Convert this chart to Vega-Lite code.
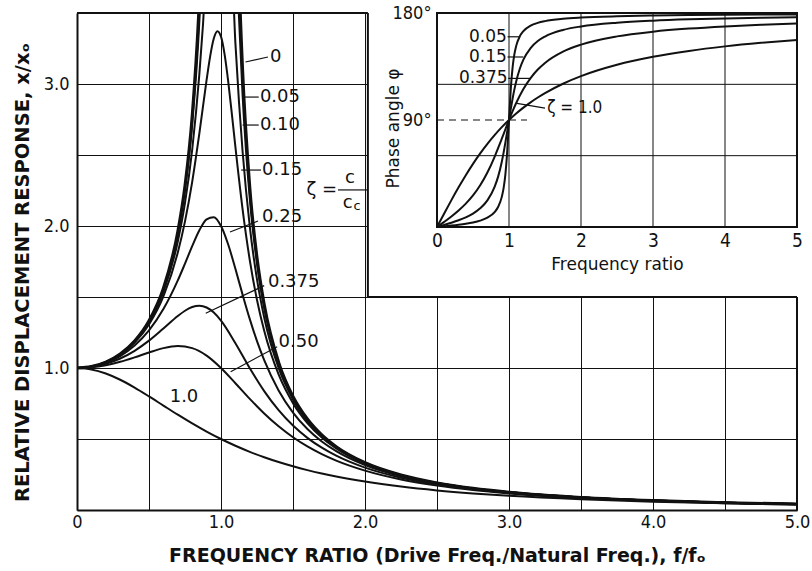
{
  "$schema": "https://vega.github.io/schema/vega-lite/v6.json",
  "width": 720,
  "height": 497,
  "autosize": {"type": "none"},
  "padding": {"left": 77, "top": 13, "right": 15, "bottom": 61},
  "background": "white",
  "config": {
    "view": {"stroke": null},
    "font": "DejaVu Sans",
    "text": {"font": "DejaVu Sans", "color": "#111"}
  },
  "datasets": {
    "amp": [
      {"z":0,"r":0,"a":1},{"z":0,"r":0.1,"a":1.0101},{"z":0,"r":0.2,"a":1.0417},{"z":0,"r":0.3,"a":1.0989},{"z":0,"r":0.4,"a":1.1905},{"z":0,"r":0.5,"a":1.3333},{"z":0,"r":0.6,"a":1.5625},{"z":0,"r":0.7,"a":1.9608},{"z":0,"r":0.75,"a":2.2857},{"z":0,"r":0.8,"a":2.7778},{"z":0,"r":0.85,"a":3.6036},{"z":0,"r":0.875,"a":4.267},{"z":0,"r":0.9,"a":5.2632},{"z":0,"r":1.1,"a":4.7619},{"z":0,"r":1.125,"a":3.7647},{"z":0,"r":1.15,"a":3.1008},{"z":0,"r":1.2,"a":2.2727},{"z":0,"r":1.25,"a":1.7778},{"z":0,"r":1.3,"a":1.4493},{"z":0,"r":1.4,"a":1.0417},{"z":0,"r":1.5,"a":0.8},{"z":0,"r":1.6,"a":0.641},{"z":0,"r":1.7,"a":0.5291},{"z":0,"r":1.8,"a":0.4464},{"z":0,"r":2.0,"a":0.3333},{"z":0,"r":2.25,"a":0.2462},{"z":0,"r":2.5,"a":0.1905},{"z":0,"r":2.75,"a":0.1524},{"z":0,"r":3.0,"a":0.125},{"z":0,"r":3.5,"a":0.0889},{"z":0,"r":4.0,"a":0.0667},{"z":0,"r":4.5,"a":0.0519},{"z":0,"r":5.0,"a":0.0417},
      {"z":0.05,"r":0,"a":1},{"z":0.05,"r":0.1,"a":1.0101},{"z":0.05,"r":0.2,"a":1.0414},{"z":0.05,"r":0.3,"a":1.0983},{"z":0.05,"r":0.4,"a":1.1891},{"z":0.05,"r":0.5,"a":1.3304},{"z":0.05,"r":0.6,"a":1.5557},{"z":0.05,"r":0.7,"a":1.9426},{"z":0.05,"r":0.75,"a":2.2529},{"z":0.05,"r":0.8,"a":2.7116},{"z":0.05,"r":0.85,"a":3.4455},{"z":0.05,"r":0.875,"a":3.997},{"z":0.05,"r":0.9,"a":4.756},{"z":0.05,"r":1.075,"a":5.287},{"z":0.05,"r":1.1,"a":4.218},{"z":0.05,"r":1.125,"a":3.4666},{"z":0.05,"r":1.15,"a":2.9207},{"z":0.05,"r":1.2,"a":2.1926},{"z":0.05,"r":1.25,"a":1.7354},{"z":0.05,"r":1.3,"a":1.4242},{"z":0.05,"r":1.4,"a":1.0308},{"z":0.05,"r":1.5,"a":0.7943},{"z":0.05,"r":1.6,"a":0.6377},{"z":0.05,"r":1.7,"a":0.527},{"z":0.05,"r":1.8,"a":0.445},{"z":0.05,"r":2.0,"a":0.3326},{"z":0.05,"r":2.25,"a":0.2458},{"z":0.05,"r":2.5,"a":0.1903},{"z":0.05,"r":2.75,"a":0.1522},{"z":0.05,"r":3.0,"a":0.1249},{"z":0.05,"r":3.5,"a":0.0888},{"z":0.05,"r":4.0,"a":0.0666},{"z":0.05,"r":4.5,"a":0.0519},{"z":0.05,"r":5.0,"a":0.0417},
      {"z":0.1,"r":0,"a":1},{"z":0.1,"r":0.1,"a":1.0099},{"z":0.1,"r":0.2,"a":1.0408},{"z":0.1,"r":0.3,"a":1.0965},{"z":0.1,"r":0.4,"a":1.1851},{"z":0.1,"r":0.5,"a":1.3216},{"z":0.1,"r":0.6,"a":1.5357},{"z":0.1,"r":0.7,"a":1.8908},{"z":0.1,"r":0.75,"a":2.1622},{"z":0.1,"r":0.8,"a":2.5384},{"z":0.1,"r":0.85,"a":3.0728},{"z":0.1,"r":0.875,"a":3.4188},{"z":0.1,"r":0.9,"a":3.8208},{"z":0.1,"r":1.075,"a":3.7677},{"z":0.1,"r":1.1,"a":3.288},{"z":0.1,"r":1.125,"a":2.8726},{"z":0.1,"r":1.15,"a":2.5245},{"z":0.1,"r":1.2,"a":1.9952},{"z":0.1,"r":1.25,"a":1.6245},{"z":0.1,"r":1.3,"a":1.3562},{"z":0.1,"r":1.4,"a":1.0},{"z":0.1,"r":1.5,"a":0.7779},{"z":0.1,"r":1.6,"a":0.6279},{"z":0.1,"r":1.7,"a":0.5207},{"z":0.1,"r":1.8,"a":0.4408},{"z":0.1,"r":2.0,"a":0.3304},{"z":0.1,"r":2.25,"a":0.2447},{"z":0.1,"r":2.5,"a":0.1896},{"z":0.1,"r":2.75,"a":0.1518},{"z":0.1,"r":3.0,"a":0.1246},{"z":0.1,"r":3.5,"a":0.0887},{"z":0.1,"r":4.0,"a":0.0666},{"z":0.1,"r":4.5,"a":0.0519},{"z":0.1,"r":5.0,"a":0.0416},
      {"z":0.15,"r":0,"a":1},{"z":0.15,"r":0.1,"a":1.0096},{"z":0.15,"r":0.2,"a":1.0396},{"z":0.15,"r":0.3,"a":1.0936},{"z":0.15,"r":0.4,"a":1.1785},{"z":0.15,"r":0.5,"a":1.3074},{"z":0.15,"r":0.6,"a":1.5041},{"z":0.15,"r":0.7,"a":1.8131},{"z":0.15,"r":0.75,"a":2.0327},{"z":0.15,"r":0.8,"a":2.3112},{"z":0.15,"r":0.85,"a":2.6534},{"z":0.15,"r":0.9,"a":3.0289},{"z":0.15,"r":0.925,"a":3.1968},{"z":0.15,"r":0.95,"a":3.3198},{"z":0.15,"r":0.975,"a":3.3711},{"z":0.15,"r":1.0,"a":3.3333},{"z":0.15,"r":1.025,"a":3.2089},{"z":0.15,"r":1.05,"a":3.0188},{"z":0.15,"r":1.075,"a":2.7926},{"z":0.15,"r":1.1,"a":2.5566},{"z":0.15,"r":1.15,"a":2.1174},{"z":0.15,"r":1.2,"a":1.759},{"z":0.15,"r":1.25,"a":1.4792},{"z":0.15,"r":1.3,"a":1.2617},{"z":0.15,"r":1.4,"a":0.9543},{"z":0.15,"r":1.5,"a":0.7527},{"z":0.15,"r":1.6,"a":0.6127},{"z":0.15,"r":1.7,"a":0.5108},{"z":0.15,"r":1.8,"a":0.434},{"z":0.15,"r":2.0,"a":0.3269},{"z":0.15,"r":2.25,"a":0.2428},{"z":0.15,"r":2.5,"a":0.1886},{"z":0.15,"r":2.75,"a":0.1512},{"z":0.15,"r":3.0,"a":0.1242},{"z":0.15,"r":3.5,"a":0.0885},{"z":0.15,"r":4.0,"a":0.0665},{"z":0.15,"r":4.5,"a":0.0518},{"z":0.15,"r":5.0,"a":0.0416},
      {"z":0.25,"r":0,"a":1},{"z":0.25,"r":0.1,"a":1.0088},{"z":0.25,"r":0.2,"a":1.0361},{"z":0.25,"r":0.3,"a":1.0843},{"z":0.25,"r":0.4,"a":1.1581},{"z":0.25,"r":0.5,"a":1.2649},{"z":0.25,"r":0.6,"a":1.4148},{"z":0.25,"r":0.7,"a":1.6167},{"z":0.25,"r":0.75,"a":1.7354},{"z":0.25,"r":0.8,"a":1.8582},{"z":0.25,"r":0.85,"a":1.9701},{"z":0.25,"r":0.9,"a":2.0472},{"z":0.25,"r":0.95,"a":2.0623},{"z":0.25,"r":1.0,"a":2.0},{"z":0.25,"r":1.05,"a":1.8695},{"z":0.25,"r":1.1,"a":1.6986},{"z":0.25,"r":1.15,"a":1.5168},{"z":0.25,"r":1.2,"a":1.344},{"z":0.25,"r":1.25,"a":1.1893},{"z":0.25,"r":1.3,"a":1.0549},{"z":0.25,"r":1.4,"a":0.8417},{"z":0.25,"r":1.5,"a":0.686},{"z":0.25,"r":1.6,"a":0.5704},{"z":0.25,"r":1.7,"a":0.4825},{"z":0.25,"r":1.8,"a":0.4142},{"z":0.25,"r":2.0,"a":0.3162},{"z":0.25,"r":2.25,"a":0.2372},{"z":0.25,"r":2.5,"a":0.1853},{"z":0.25,"r":2.75,"a":0.1491},{"z":0.25,"r":3.0,"a":0.1229},{"z":0.25,"r":3.5,"a":0.0878},{"z":0.25,"r":4.0,"a":0.0661},{"z":0.25,"r":4.5,"a":0.0516},{"z":0.25,"r":5.0,"a":0.0414},
      {"z":0.375,"r":0,"a":1},{"z":0.375,"r":0.1,"a":1.0072},{"z":0.375,"r":0.2,"a":1.0292},{"z":0.375,"r":0.3,"a":1.0668},{"z":0.375,"r":0.4,"a":1.1211},{"z":0.375,"r":0.5,"a":1.1926},{"z":0.375,"r":0.6,"a":1.2782},{"z":0.375,"r":0.7,"a":1.3663},{"z":0.375,"r":0.75,"a":1.4033},{"z":0.375,"r":0.8,"a":1.4292},{"z":0.375,"r":0.85,"a":1.4383},{"z":0.375,"r":0.9,"a":1.4261},{"z":0.375,"r":0.95,"a":1.3905},{"z":0.375,"r":1.0,"a":1.3333},{"z":0.375,"r":1.1,"a":1.1747},{"z":0.375,"r":1.2,"a":0.9982},{"z":0.375,"r":1.3,"a":0.8372},{"z":0.375,"r":1.4,"a":0.7029},{"z":0.375,"r":1.5,"a":0.5946},{"z":0.375,"r":1.6,"a":0.5081},{"z":0.375,"r":1.7,"a":0.4386},{"z":0.375,"r":1.8,"a":0.3824},{"z":0.375,"r":2.0,"a":0.2981},{"z":0.375,"r":2.25,"a":0.2273},{"z":0.375,"r":2.5,"a":0.1794},{"z":0.375,"r":2.75,"a":0.1454},{"z":0.375,"r":3.0,"a":0.1203},{"z":0.375,"r":3.5,"a":0.0866},{"z":0.375,"r":4.0,"a":0.0654},{"z":0.375,"r":4.5,"a":0.0512},{"z":0.375,"r":5.0,"a":0.0412},
      {"z":0.5,"r":0,"a":1},{"z":0.5,"r":0.1,"a":1.005},{"z":0.5,"r":0.2,"a":1.0198},{"z":0.5,"r":0.3,"a":1.0436},{"z":0.5,"r":0.4,"a":1.0748},{"z":0.5,"r":0.5,"a":1.1094},{"z":0.5,"r":0.6,"a":1.1399},{"z":0.5,"r":0.7,"a":1.1546},{"z":0.5,"r":0.8,"a":1.1399},{"z":0.5,"r":0.9,"a":1.0872},{"z":0.5,"r":1.0,"a":1.0},{"z":0.5,"r":1.1,"a":0.893},{"z":0.5,"r":1.2,"a":0.7824},{"z":0.5,"r":1.3,"a":0.6795},{"z":0.5,"r":1.4,"a":0.5891},{"z":0.5,"r":1.5,"a":0.5121},{"z":0.5,"r":1.6,"a":0.4475},{"z":0.5,"r":1.7,"a":0.3934},{"z":0.5,"r":1.8,"a":0.348},{"z":0.5,"r":2.0,"a":0.2774},{"z":0.5,"r":2.25,"a":0.2153},{"z":0.5,"r":2.5,"a":0.172},{"z":0.5,"r":2.75,"a":0.1405},{"z":0.5,"r":3.0,"a":0.117},{"z":0.5,"r":3.5,"a":0.0849},{"z":0.5,"r":4.0,"a":0.0644},{"z":0.5,"r":4.5,"a":0.0506},{"z":0.5,"r":5.0,"a":0.0408},
      {"z":1,"r":0,"a":1},{"z":1,"r":0.1,"a":0.9901},{"z":1,"r":0.2,"a":0.9615},{"z":1,"r":0.3,"a":0.9174},{"z":1,"r":0.4,"a":0.8621},{"z":1,"r":0.5,"a":0.8},{"z":1,"r":0.6,"a":0.7353},{"z":1,"r":0.7,"a":0.6711},{"z":1,"r":0.8,"a":0.6098},{"z":1,"r":0.9,"a":0.5525},{"z":1,"r":1.0,"a":0.5},{"z":1,"r":1.1,"a":0.4525},{"z":1,"r":1.2,"a":0.4098},{"z":1,"r":1.3,"a":0.3717},{"z":1,"r":1.4,"a":0.3378},{"z":1,"r":1.5,"a":0.3077},{"z":1,"r":1.6,"a":0.2809},{"z":1,"r":1.7,"a":0.2571},{"z":1,"r":1.8,"a":0.2358},{"z":1,"r":2.0,"a":0.2},{"z":1,"r":2.25,"a":0.1649},{"z":1,"r":2.5,"a":0.1379},{"z":1,"r":2.75,"a":0.1168},{"z":1,"r":3.0,"a":0.1},{"z":1,"r":3.5,"a":0.0755},{"z":1,"r":4.0,"a":0.0588},{"z":1,"r":4.5,"a":0.0471},{"z":1,"r":5.0,"a":0.0385}
    ],
    "phase": [
      {"z":0.05,"r":0,"p":0},{"z":0.05,"r":0.1,"p":0.58},{"z":0.05,"r":0.2,"p":1.19},{"z":0.05,"r":0.3,"p":1.89},{"z":0.05,"r":0.4,"p":2.73},{"z":0.05,"r":0.5,"p":3.81},{"z":0.05,"r":0.6,"p":5.36},{"z":0.05,"r":0.7,"p":7.82},{"z":0.05,"r":0.8,"p":12.53},{"z":0.05,"r":0.85,"p":17.03},{"z":0.05,"r":0.9,"p":25.35},{"z":0.05,"r":0.925,"p":32.65},{"z":0.05,"r":0.95,"p":44.26},{"z":0.05,"r":0.975,"p":63.14},{"z":0.05,"r":1.0,"p":90},{"z":0.05,"r":1.025,"p":116.29},{"z":0.05,"r":1.05,"p":134.31},{"z":0.05,"r":1.075,"p":145.36},{"z":0.05,"r":1.1,"p":152.35},{"z":0.05,"r":1.15,"p":160.37},{"z":0.05,"r":1.2,"p":164.74},{"z":0.05,"r":1.3,"p":169.33},{"z":0.05,"r":1.4,"p":171.7},{"z":0.05,"r":1.5,"p":173.16},{"z":0.05,"r":1.75,"p":175.15},{"z":0.05,"r":2.0,"p":176.19},{"z":0.05,"r":2.5,"p":177.27},{"z":0.05,"r":3.0,"p":177.85},{"z":0.05,"r":3.5,"p":178.22},{"z":0.05,"r":4.0,"p":178.47},{"z":0.05,"r":4.5,"p":178.66},{"z":0.05,"r":5.0,"p":178.81},
      {"z":0.15,"r":0,"p":0},{"z":0.15,"r":0.1,"p":1.74},{"z":0.15,"r":0.2,"p":3.58},{"z":0.15,"r":0.3,"p":5.65},{"z":0.15,"r":0.4,"p":8.13},{"z":0.15,"r":0.5,"p":11.31},{"z":0.15,"r":0.6,"p":15.71},{"z":0.15,"r":0.7,"p":22.38},{"z":0.15,"r":0.8,"p":33.69},{"z":0.15,"r":0.85,"p":42.58},{"z":0.15,"r":0.9,"p":54.87},{"z":0.15,"r":0.925,"p":62.52},{"z":0.15,"r":0.95,"p":71.11},{"z":0.15,"r":0.975,"p":80.42},{"z":0.15,"r":1.0,"p":90},{"z":0.15,"r":1.025,"p":99.35},{"z":0.15,"r":1.05,"p":108.02},{"z":0.15,"r":1.075,"p":115.76},{"z":0.15,"r":1.1,"p":122.47},{"z":0.15,"r":1.15,"p":133.07},{"z":0.15,"r":1.2,"p":140.71},{"z":0.15,"r":1.3,"p":150.52},{"z":0.15,"r":1.4,"p":156.37},{"z":0.15,"r":1.5,"p":160.2},{"z":0.15,"r":1.75,"p":165.72},{"z":0.15,"r":2.0,"p":168.69},{"z":0.15,"r":2.5,"p":171.87},{"z":0.15,"r":3.0,"p":173.58},{"z":0.15,"r":3.5,"p":174.67},{"z":0.15,"r":4.0,"p":175.43},{"z":0.15,"r":4.5,"p":175.99},{"z":0.15,"r":5.0,"p":176.42},
      {"z":0.375,"r":0,"p":0},{"z":0.375,"r":0.1,"p":4.33},{"z":0.375,"r":0.2,"p":8.88},{"z":0.375,"r":0.3,"p":13.89},{"z":0.375,"r":0.4,"p":19.65},{"z":0.375,"r":0.5,"p":26.57},{"z":0.375,"r":0.6,"p":35.11},{"z":0.375,"r":0.7,"p":45.83},{"z":0.375,"r":0.8,"p":59.04},{"z":0.375,"r":0.85,"p":66.48},{"z":0.375,"r":0.9,"p":74.28},{"z":0.375,"r":0.95,"p":82.21},{"z":0.375,"r":1.0,"p":90},{"z":0.375,"r":1.05,"p":97.42},{"z":0.375,"r":1.1,"p":104.28},{"z":0.375,"r":1.2,"p":116.05},{"z":0.375,"r":1.3,"p":125.29},{"z":0.375,"r":1.4,"p":132.44},{"z":0.375,"r":1.5,"p":138.01},{"z":0.375,"r":1.75,"p":147.53},{"z":0.375,"r":2.0,"p":153.43},{"z":0.375,"r":2.5,"p":160.35},{"z":0.375,"r":3.0,"p":164.29},{"z":0.375,"r":3.5,"p":166.87},{"z":0.375,"r":4.0,"p":168.69},{"z":0.375,"r":4.5,"p":170.06},{"z":0.375,"r":5.0,"p":171.12},
      {"z":1,"r":0,"p":0},{"z":1,"r":0.1,"p":11.42},{"z":1,"r":0.2,"p":22.62},{"z":1,"r":0.3,"p":33.4},{"z":1,"r":0.4,"p":43.6},{"z":1,"r":0.5,"p":53.13},{"z":1,"r":0.6,"p":61.93},{"z":1,"r":0.7,"p":69.98},{"z":1,"r":0.8,"p":77.32},{"z":1,"r":0.9,"p":83.97},{"z":1,"r":1.0,"p":90},{"z":1,"r":1.1,"p":95.45},{"z":1,"r":1.2,"p":100.39},{"z":1,"r":1.3,"p":104.86},{"z":1,"r":1.4,"p":108.92},{"z":1,"r":1.5,"p":112.62},{"z":1,"r":1.75,"p":120.51},{"z":1,"r":2.0,"p":126.87},{"z":1,"r":2.5,"p":136.4},{"z":1,"r":3.0,"p":143.13},{"z":1,"r":3.5,"p":148.11},{"z":1,"r":4.0,"p":151.93},{"z":1,"r":4.5,"p":154.94},{"z":1,"r":5.0,"p":157.38}
    ],
    "mask": [{"x":2.02,"x2":5.1,"y":1.5,"y2":3.6}],
    "frame": [
      {"x":2.02,"x2":2.02,"y":1.5,"y2":3.5},
      {"x":2.02,"x2":5,"y":1.5,"y2":1.5},
      {"x":0,"x2":2.02,"y":3.5,"y2":3.5},
      {"x":5,"x2":5,"y":0,"y2":1.5}
    ],
    "leaders": [
      {"x":1.17,"x2":1.326,"y":3.155,"y2":3.19},
      {"x":1.16,"x2":1.262,"y":2.908,"y2":2.908},
      {"x":1.15,"x2":1.262,"y":2.711,"y2":2.711},
      {"x":1.14,"x2":1.278,"y":2.394,"y2":2.394},
      {"x":1.0625,"x2":1.257,"y":1.958,"y2":2.035},
      {"x":0.894,"x2":1.3,"y":1.385,"y2":1.58},
      {"x":1.067,"x2":1.39,"y":0.974,"y2":1.15},
      {"x":1.8125,"x2":2.02,"y":2.254,"y2":2.254}
    ],
    "labels": [
      {"t":"0","x":1.34,"y":3.19},
      {"t":"0.05","x":1.27,"y":2.908},
      {"t":"0.10","x":1.27,"y":2.711},
      {"t":"0.15","x":1.285,"y":2.394},
      {"t":"0.25","x":1.285,"y":2.063},
      {"t":"0.375","x":1.326,"y":1.606},
      {"t":"0.50","x":1.4,"y":1.185}
    ],
    "clabels": [
      {"t":"1.0","x":0.743,"y":0.796},
      {"t":"ζ =","x":1.7,"y":2.254},
      {"t":"c","x":1.896,"y":2.335}
    ],
    "cc": [{"t":"c","x":1.88,"y":2.165}],
    "ccsub": [{"t":"c","x":1.945,"y":2.14}],
    "igrid": [
      {"x":1,"x2":1,"y":0,"y2":180},
      {"x":2,"x2":2,"y":0,"y2":180},
      {"x":3,"x2":3,"y":0,"y2":180},
      {"x":4,"x2":4,"y":0,"y2":180},
      {"x":0,"x2":5,"y":60,"y2":60},
      {"x":0,"x2":5,"y":120,"y2":120}
    ],
    "iframe": [{"x":0,"x2":5,"y":0,"y2":180}],
    "idash": [{"x":0,"x2":1.25,"y":90,"y2":90}],
    "ileaders": [
      {"x":0.98,"x2":1.14,"y":160,"y2":160},
      {"x":0.98,"x2":1.2,"y":143,"y2":143},
      {"x":0.99,"x2":1.3,"y":125,"y2":125},
      {"x":1.11,"x2":1.5,"y":104,"y2":100}
    ],
    "ilabels": [
      {"t":"0.05","x":0.97,"y":160},
      {"t":"0.15","x":0.97,"y":143},
      {"t":"0.375","x":0.98,"y":125}
    ],
    "izeta": [{"t":"ζ = 1.0","x":1.53,"y":100}]
  },
  "layer": [
    {
      "layer": [
        {
          "data": {"name": "amp"},
          "mark": {"type": "line", "interpolate": "monotone", "clip": true, "color": "#111"},
          "encoding": {
            "x": {
              "field": "r", "type": "quantitative",
              "scale": {"domain": [0, 5], "nice": false, "zero": false},
              "axis": {
                "values": [0, 0.5, 1, 1.5, 2, 2.5, 3, 3.5, 4, 4.5, 5],
                "grid": true, "gridColor": "#111", "gridWidth": 1, "gridOpacity": 1,
                "ticks": false, "domain": true, "domainColor": "#111", "domainWidth": 2,
                "labelExpr": "datum.value % 1 === 0 ? (datum.value === 0 ? '0' : format(datum.value, '.1f')) : ''",
                "labelFont": "DejaVu Sans Condensed, DejaVu Sans", "labelFontSize": 18, "labelColor": "#111",
                "labelPadding": 3, "labelFlush": false, "labelOverlap": false,
                "title": "FREQUENCY RATIO (Drive Freq./Natural Freq.), f/fₒ",
                "titleFont": "DejaVu Sans", "titleFontSize": 19, "titleFontWeight": "bold",
                "titleColor": "#111", "titleY": 45, "titleBaseline": "middle"
              }
            },
            "y": {
              "field": "a", "type": "quantitative",
              "scale": {"domain": [0, 3.5], "nice": false},
              "axis": {
                "values": [0, 0.5, 1, 1.5, 2, 2.5, 3, 3.5],
                "grid": true, "gridColor": "#111", "gridWidth": 1, "gridOpacity": 1,
                "ticks": false, "domain": true, "domainColor": "#111", "domainWidth": 2,
                "labelExpr": "datum.value % 1 === 0 && datum.value > 0 ? format(datum.value, '.1f') : ''",
                "labelFont": "DejaVu Sans Condensed, DejaVu Sans", "labelFontSize": 18, "labelColor": "#111",
                "labelPadding": 8, "labelOverlap": false,
                "title": "RELATIVE DISPLACEMENT RESPONSE, x/xₒ",
                "titleFont": "DejaVu Sans", "titleFontSize": 19.5, "titleFontWeight": "bold",
                "titleColor": "#111", "titleX": -55, "titleY": 259, "titleBaseline": "middle", "titleAlign": "center"
              }
            },
            "detail": {"field": "z", "type": "nominal"},
            "strokeWidth": {"condition": {"test": "datum.z === 0", "value": 3}, "value": 2}
          }
        },
        {
          "data": {"name": "mask"},
          "mark": {"type": "rect", "fill": "white", "clip": false},
          "encoding": {
            "x": {"field": "x", "type": "quantitative"},
            "x2": {"field": "x2"},
            "y": {"field": "y", "type": "quantitative"},
            "y2": {"field": "y2"}
          }
        },
        {
          "data": {"name": "frame"},
          "mark": {"type": "rule", "color": "#111", "strokeWidth": 2},
          "encoding": {
            "x": {"field": "x", "type": "quantitative"},
            "x2": {"field": "x2"},
            "y": {"field": "y", "type": "quantitative"},
            "y2": {"field": "y2"}
          }
        },
        {
          "data": {"name": "leaders"},
          "mark": {"type": "rule", "color": "#111", "strokeWidth": 1.2},
          "encoding": {
            "x": {"field": "x", "type": "quantitative"},
            "x2": {"field": "x2"},
            "y": {"field": "y", "type": "quantitative"},
            "y2": {"field": "y2"}
          }
        },
        {
          "data": {"name": "labels"},
          "mark": {"type": "text", "align": "left", "baseline": "middle", "fontSize": 18, "font": "DejaVu Sans", "color": "#111"},
          "encoding": {
            "x": {"field": "x", "type": "quantitative"},
            "y": {"field": "y", "type": "quantitative"},
            "text": {"field": "t"}
          }
        },
        {
          "data": {"name": "clabels"},
          "mark": {"type": "text", "align": "center", "baseline": "middle", "fontSize": 18, "font": "DejaVu Sans", "color": "#111"},
          "encoding": {
            "x": {"field": "x", "type": "quantitative"},
            "y": {"field": "y", "type": "quantitative"},
            "text": {"field": "t"}
          }
        },
        {
          "data": {"name": "cc"},
          "mark": {"type": "text", "align": "center", "baseline": "middle", "fontSize": 18, "font": "DejaVu Sans", "color": "#111"},
          "encoding": {
            "x": {"field": "x", "type": "quantitative"},
            "y": {"field": "y", "type": "quantitative"},
            "text": {"field": "t"}
          }
        },
        {
          "data": {"name": "ccsub"},
          "mark": {"type": "text", "align": "center", "baseline": "middle", "fontSize": 13, "font": "DejaVu Sans", "color": "#111"},
          "encoding": {
            "x": {"field": "x", "type": "quantitative"},
            "y": {"field": "y", "type": "quantitative"},
            "text": {"field": "t"}
          }
        }
      ]
    },
    {
      "layer": [
        {
          "data": {"name": "igrid"},
          "mark": {"type": "rule", "color": "#111", "strokeWidth": 1},
          "encoding": {
            "x": {
              "field": "x", "type": "quantitative",
              "scale": {"domain": [0, 5], "range": [360, 720], "nice": false, "zero": false},
              "axis": {
                "orient": "bottom", "offset": -283, "values": [0, 1, 2, 3, 4, 5], "format": "d",
                "grid": false, "ticks": false, "domain": false, "zindex": 1,
                "labelFont": "DejaVu Sans Condensed, DejaVu Sans", "labelFontSize": 19, "labelColor": "#111",
                "labelPadding": 4, "labelFlush": false, "labelOverlap": false,
                "title": "Frequency ratio", "titleFont": "DejaVu Sans", "titleFontSize": 17,
                "titleFontWeight": "normal", "titleColor": "#111", "titlePadding": 6
              }
            },
            "x2": {"field": "x2"},
            "y": {
              "field": "y", "type": "quantitative",
              "scale": {"domain": [0, 180], "range": [214, 0], "nice": false},
              "axis": {
                "orient": "left", "offset": -360, "values": [90, 180],
                "labelExpr": "datum.value + '°'",
                "grid": false, "ticks": false, "domain": false, "zindex": 1,
                "labelFont": "DejaVu Sans Condensed, DejaVu Sans", "labelFontSize": 18, "labelColor": "#111",
                "labelPadding": 6, "labelOverlap": false,
                "title": "Phase angle φ", "titleFont": "DejaVu Sans", "titleFontSize": 17,
                "titleFontWeight": "normal", "titleColor": "#111",
                "titleX": -44, "titleY": 115, "titleBaseline": "middle", "titleAlign": "center"
              }
            },
            "y2": {"field": "y2"}
          }
        },
        {
          "data": {"name": "iframe"},
          "mark": {"type": "rect", "filled": false, "stroke": "#111", "strokeWidth": 2},
          "encoding": {
            "x": {"field": "x", "type": "quantitative"},
            "x2": {"field": "x2"},
            "y": {"field": "y", "type": "quantitative"},
            "y2": {"field": "y2"}
          }
        },
        {
          "data": {"name": "idash"},
          "mark": {"type": "rule", "color": "#111", "strokeWidth": 1.2, "strokeDash": [7, 5]},
          "encoding": {
            "x": {"field": "x", "type": "quantitative"},
            "x2": {"field": "x2"},
            "y": {"field": "y", "type": "quantitative"},
            "y2": {"field": "y2"}
          }
        },
        {
          "data": {"name": "phase"},
          "mark": {"type": "line", "interpolate": "monotone", "color": "#111", "strokeWidth": 2},
          "encoding": {
            "x": {"field": "r", "type": "quantitative"},
            "y": {"field": "p", "type": "quantitative"},
            "detail": {"field": "z", "type": "nominal"}
          }
        },
        {
          "data": {"name": "ileaders"},
          "mark": {"type": "rule", "color": "#111", "strokeWidth": 1.2},
          "encoding": {
            "x": {"field": "x", "type": "quantitative"},
            "x2": {"field": "x2"},
            "y": {"field": "y", "type": "quantitative"},
            "y2": {"field": "y2"}
          }
        },
        {
          "data": {"name": "ilabels"},
          "mark": {"type": "text", "align": "right", "baseline": "middle", "fontSize": 17, "font": "DejaVu Sans", "color": "#111"},
          "encoding": {
            "x": {"field": "x", "type": "quantitative"},
            "y": {"field": "y", "type": "quantitative"},
            "text": {"field": "t"}
          }
        },
        {
          "data": {"name": "izeta"},
          "mark": {"type": "text", "align": "left", "baseline": "middle", "fontSize": 17, "font": "DejaVu Sans Condensed, DejaVu Sans", "color": "#111"},
          "encoding": {
            "x": {"field": "x", "type": "quantitative"},
            "y": {"field": "y", "type": "quantitative"},
            "text": {"field": "t"}
          }
        }
      ]
    }
  ],
  "resolve": {"scale": {"x": "independent", "y": "independent"}, "axis": {"x": "independent", "y": "independent"}}
}
